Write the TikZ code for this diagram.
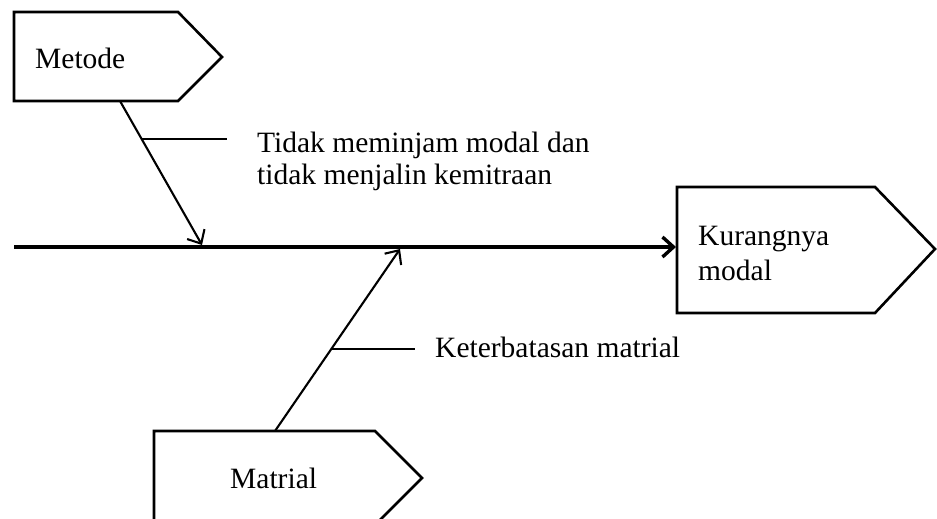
\documentclass[tikz,border=0pt]{standalone}
\usepackage{fontspec}
\setmainfont{Liberation Serif}
\usetikzlibrary{arrows.meta}
\begin{document}
\begin{tikzpicture}[x=1pt,y=-1pt,
  boxline/.style={draw=black, line width=2.6pt, line join=miter},
  lbl/.style={font=\fontsize{29.5}{32}\selectfont, anchor=base west, inner sep=0pt},
  bone/.style={line width=2.1pt, -{Straight Barb[length=11pt,width=20pt,line width=2.1pt]}},
  spine/.style={line width=4.2pt, -{Straight Barb[length=11pt,width=20pt,line width=3.4pt]}},
  tickline/.style={line width=1.8pt}]
\useasboundingbox (0,0) rectangle (937,519);
\begin{scope}
\clip (0,0) rectangle (937,519);
% boxes
\draw[boxline] (14,12) -- (178,12) -- (222,57) -- (178,101) -- (14,101) -- cycle;
\draw[boxline] (677,187) -- (875,187) -- (935,249) -- (875,313) -- (677,313) -- cycle;
\draw[boxline] (154,431) -- (375,431) -- (422,478) -- (375,525) -- (154,525) -- cycle;
\end{scope}
% texts
\node[lbl] (metode) at (35,68) {Metode};
\node[lbl] (kura) at (698,245) {Kurangnya};
\node[lbl] (kurb) at (698,280) {modal};
\node[lbl] (matrial) at (230,488) {Matrial};
\node[lbl] (ta) at (257,152) {Tidak meminjam modal dan};
\node[lbl] (tb) at (257,184) {tidak menjalin kemitraan};
\node[lbl] (kt) at (435,357) {Keterbatasan matrial};
% coordinates
\coordinate (spineS) at (14,247);
\coordinate (spineE) at (676,247);
\coordinate (mtop) at (120,101);
\coordinate (mend) at (202,245);
\coordinate (mtick) at (142,139);
\coordinate (mtickE) at (227,139);
\coordinate (rbot) at (275,431);
\coordinate (rend) at (400,249);
\coordinate (rtick) at (331,349);
\coordinate (rtickE) at (415,349);
% connectors
\draw[spine] (spineS) -- (spineE);
\draw[bone] (mtop) -- (mend);
\draw[bone] (rbot) -- (rend);
\draw[tickline] (mtick) -- (mtickE);
\draw[tickline] (rtick) -- (rtickE);
\end{tikzpicture}
\end{document}
